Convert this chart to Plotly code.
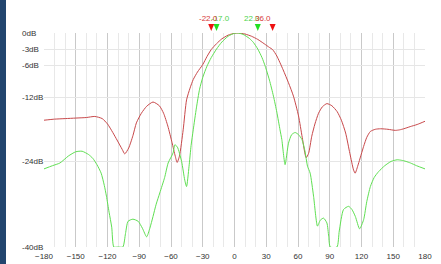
import plotly.graph_objects as go

# ---- data ----
red_angle = [-180, -170, -160, -150, -140, -132, -125, -120, -115, -111, -106, -103.7, -100, -96, -92.7,
             -88, -83, -77, -71, -67, -63, -59, -56, -54.2, -52, -48.5, -45.3, -42, -39, -35, -30, -26,
             -22, -17, -12, -6, 0, 4, 10, 16, 22, 28, 33, 36, 40, 46, 51, 55.7, 60.5, 64, 67.7, 70, 73,
             76, 79.4, 83, 87.3, 92, 97, 101, 105, 109, 112.5, 114, 117, 122, 125, 128.4, 133, 138, 145,
             152, 156, 160, 166, 172.6, 180]
red_db = [-16.3, -16.1, -16.0, -15.9, -15.8, -15.6, -16.0, -17.0, -18.6, -20.0, -21.8, -22.6, -21.5, -19.2, -16.8,
          -15.0, -13.7, -12.9, -13.6, -15.0, -17.4, -20.5, -23.0, -24.2, -23.0, -18.1, -12.5, -10.3, -8.7, -7.3, -5.9, -4.4,
          -3.1, -2.0, -1.1, -0.4, -0.05, 0.0, -0.2, -0.6, -1.2, -2.0, -2.7, -3.1, -4.3, -6.9, -9.3, -11.8, -15.5, -19.5, -23.3, -22.5, -19.3,
          -17.0, -15.0, -13.8, -13.2, -13.6, -14.7, -16.3, -18.7, -22.5, -25.6, -26.2, -24.5, -21.2, -19.5, -18.4, -18.0, -17.9, -18.0,
          -18.2, -18.1, -17.9, -17.5, -17.1, -16.5]

green_angle = [-180, -172, -165, -157, -150, -144, -138, -134, -130, -126, -123, -121, -118.5, -116, -114, -110,
               -105.5, -103, -100.6, -96, -91, -87, -83, -80, -77, -74, -70.6, -66, -62.7, -58, -56.4, -54, -50,
               -47, -45.3, -43, -41, -39, -36, -33, -30, -26, -22, -17, -12, -6, 0, 3, 8, 14, 18, 22, 26, 29, 33,
               36.8, 40, 43, 44.7, 47.8, 51, 54, 57.3, 60.5, 63.7, 66.5, 69, 71.5, 74.7, 78.4, 81, 84.1, 87.3, 89,
               90.5, 96.8, 99, 103, 107.8, 111, 114.2, 118.2, 122, 125, 128.4, 132, 136.2, 142, 148, 153.7, 158,
               162, 166.3, 172, 180]
green_db = [-25.4, -24.8, -24.3, -23.0, -22.2, -22.1, -22.7, -23.4, -24.6, -26.2, -28.5, -30.5, -33.5, -36.3, -40, -40,
            -40, -37.5, -35.2, -34.8, -35.2, -36.5, -38.1, -36.5, -34.3, -32.0, -29.9, -27.0, -24.3, -22.4, -20.9, -21.3, -24.0,
            -27.5, -28.7, -25.0, -21.0, -18.1, -14.0, -10.5, -8.3, -6.2, -4.6, -3.0, -1.7, -0.6, -0.05, 0.0, -0.25, -1.0, -1.8, -3.0, -4.6, -6.2, -8.8,
            -11.8, -14.8, -18.1, -19.9, -24.6, -20.6, -19.0, -18.6, -19.0, -19.9, -22.0, -24.9, -26.2, -30.5, -36.1, -35.0, -34.6, -35.5, -38.0,
            -40, -40, -37.0, -33.0, -32.4, -33.0, -34.3, -36.6, -34.9, -31.5, -28.7, -27.0, -25.9, -24.8, -24.0, -23.7, -23.8,
            -24.0, -24.3, -24.8, -25.4]

x_ticks = [-180, -150, -120, -90, -60, -30, 0, 30, 60, 90, 120, 150, 180]
y_ticks = [0, -3, -6, -12, -24, -40]
y_tick_labels = ["0dB", "-3dB", "-6dB", "-12dB", "-24dB", "-40dB"]

red_markers = [-22.0, 36.0]
green_markers = [-17.0, 22.0]

RED = "#c8484a"
GREEN = "#5fdf52"
FONT = "Liberation Sans, Arial"

fig = go.Figure()
fig.add_trace(go.Scatter(x=red_angle, y=red_db, mode="lines",
                         line=dict(color=RED, width=1, shape="spline", smoothing=0.6), hoverinfo="skip"))
fig.add_trace(go.Scatter(x=green_angle, y=green_db, mode="lines",
                         line=dict(color=GREEN, width=1, shape="spline", smoothing=0.6), hoverinfo="skip"))

shapes = [dict(type="rect", xref="paper", yref="paper", x0=-44 / 381, x1=-38 / 381, y0=-0.2, y1=1.2,
               fillcolor="#22456e", line=dict(width=0), layer="below")]

# beamwidth markers: small down-pointing triangles above the plot, anchored at each angle
tri_path = "M-3,9 L3,9 L0,2 Z"
for v in green_markers:
    shapes.append(dict(type="path", xref="x", yref="paper", xsizemode="pixel", ysizemode="pixel",
                       xanchor=v, yanchor=1, path=tri_path, fillcolor="#22e022",
                       line=dict(width=0), layer="above"))
for v in red_markers:
    shapes.append(dict(type="path", xref="x", yref="paper", xsizemode="pixel", ysizemode="pixel",
                       xanchor=v, yanchor=1, path=tri_path, fillcolor="#ee1111",
                       line=dict(width=0), layer="above"))

annotations = []
for v, sh in zip(green_markers, [4, -6]):
    annotations.append(dict(x=v, y=1, xref="x", yref="paper", yanchor="middle", yshift=15, xshift=sh,
                            text=f"{v:.1f}", showarrow=False,
                            font=dict(family=FONT, size=8, color="#4cd24c")))
for v, sh in zip(red_markers, [-3, -10]):
    annotations.append(dict(x=v, y=1, xref="x", yref="paper", yanchor="middle", yshift=15, xshift=sh,
                            text=f"{v:.1f}", showarrow=False,
                            font=dict(family=FONT, size=8, color="#d83a3a")))
for v, t in zip(y_ticks, y_tick_labels):
    annotations.append(dict(x=-0.064, y=v, xref="paper", yref="y", xanchor="left", yanchor="middle",
                            text=t, showarrow=False,
                            font=dict(family=FONT, size=8, color="#333333")))

fig.update_layout(
    width=441, height=264,
    margin=dict(l=44, r=16, t=33, b=17, autoexpand=False),
    paper_bgcolor="white", plot_bgcolor="white",
    showlegend=False,
    annotations=annotations,
    shapes=shapes,
    xaxis=dict(range=[-180, 180], tickvals=x_ticks, showgrid=True, gridcolor="#c9c9c9", gridwidth=1,
               minor=dict(dtick=10, tick0=0, showgrid=True, gridcolor="#e8e8e8", gridwidth=1),
               zeroline=False, showline=False, ticks="outside", ticklen=1, tickcolor="rgba(0,0,0,0)",
               automargin=False,
               tickfont=dict(family=FONT, size=8, color="#333333")),
    yaxis=dict(range=[-40, 0], tickvals=y_ticks, showticklabels=False, showgrid=True, automargin=False,
               gridcolor="#e6e6e6", gridwidth=1, zeroline=False, showline=False, ticks=""),
)

fig.write_html("out.html", config={"displayModeBar": False},
               post_script="document.body.style.margin='0';document.body.style.padding='0';")
